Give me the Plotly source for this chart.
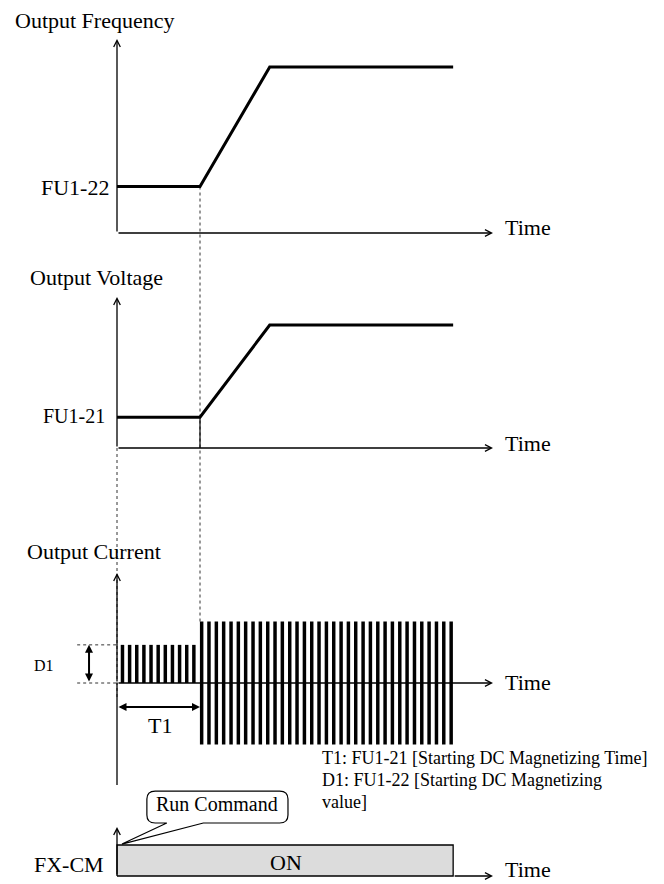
"""Starting DC magnetizing timing diagram (frequency, voltage, current, FX-CM)."""

import plotly.graph_objects as go

W, H = 664, 884
FONT = "Liberation Serif, Times New Roman, serif"

# ---- data (time in arbitrary units, T1 = 10) ----
freq_t = [0, 10, 18.4, 40.5]
freq_v = [28, 28, 100, 100]          # % of run frequency, FU1-22 level = 28
volt_t = [0, 10, 18.4, 40.5]
volt_v = [25, 25, 100, 100]          # % of run voltage, FU1-21 level = 25
t1_end = 10
run_end = 40.5
axis_end = 45.3

dc_pulse_t = [0.66, 1.52, 2.38, 3.24, 4.10, 4.96, 5.82, 6.68, 7.54, 8.40, 9.26]
dc_level = 0.62
run_pulse_t = [10.20, 11.08, 11.97, 12.85, 13.74, 14.62, 15.50, 16.39, 17.27,
               18.16, 19.04, 19.92, 20.81, 21.69, 22.58, 23.46, 24.34, 25.23,
               26.11, 27.00, 27.88, 28.76, 29.65, 30.53, 31.42, 32.30, 33.18,
               34.07, 34.95, 35.84, 36.72, 37.60, 38.49, 39.37, 40.26]
run_amp = 1.0
fx_on = 1.0

notes = ["T1: FU1-21 [Starting DC Magnetizing Time]",
         "D1: FU1-22 [Starting DC Magnetizing",
         "value]"]

# ---- layout of the four panels in pixels ----
X0, XS = 117, 8.3                     # pixel of t=0, pixels per time unit
PANELS = {"y": (233, 1.66), "y2": (448, 1.23), "y3": (683, 61.5), "y4": (876, 31)}


def yrange(ax):
    zero, s = PANELS[ax]
    return [(zero - H) / s, zero / s]


def conv(v, src, dst):
    """value on axis src -> value on axis dst (same screen height)"""
    zs, ss = PANELS[src]
    zd, sd = PANELS[dst]
    return (zd - (zs - v * ss)) / sd


fig = go.Figure()

# cross-panel dotted guide at the end of T1
fig.add_trace(go.Scatter(
    x=[t1_end, t1_end], y=[freq_v[1], conv(run_amp, "y3", "y")],
    mode="lines", line=dict(color="#333", width=1, dash="dot"), yaxis="y"))
fig.add_trace(go.Scatter(
    x=[0, 0], y=[0, conv(-0.26, "y3", "y2")],
    mode="lines", line=dict(color="#333", width=1, dash="dot"), yaxis="y2"))
fig.add_trace(go.Scatter(
    x=[t1_end, t1_end], y=[0, volt_v[1]],
    mode="lines", line=dict(color="black", width=1.2), yaxis="y2"))

# frequency / voltage curves
fig.add_trace(go.Scatter(x=freq_t, y=freq_v, mode="lines",
                         line=dict(color="black", width=3), yaxis="y"))
fig.add_trace(go.Scatter(x=volt_t, y=volt_v, mode="lines",
                         line=dict(color="black", width=3), yaxis="y2"))

# current pulses
fig.add_trace(go.Bar(x=dc_pulse_t, y=[dc_level] * len(dc_pulse_t), base=0,
                     width=0.42, marker=dict(color="black", line=dict(width=0)),
                     yaxis="y3"))
fig.add_trace(go.Bar(x=run_pulse_t, y=[2 * run_amp] * len(run_pulse_t),
                     base=-run_amp, width=0.42,
                     marker=dict(color="black", line=dict(width=0)), yaxis="y3"))

# D1 dotted guides
for lv in [dc_level, 0]:
    fig.add_trace(go.Scatter(x=[-4.8, 0], y=[lv, lv], mode="lines",
                             line=dict(color="#333", width=1, dash="dot"),
                             yaxis="y3"))

# FX-CM ON box
fig.add_trace(go.Scatter(x=[0, run_end, run_end, 0, 0],
                         y=[0, 0, fx_on, fx_on, 0], mode="lines", fill="toself",
                         fillcolor="#dcdcdc", line=dict(color="black", width=1.3),
                         yaxis="y4"))

# lower part of the current axis (below the time axis)
fig.add_trace(go.Scatter(x=[0, 0], y=[-1.66, 0], mode="lines", yaxis="y3",
                         line=dict(color="black", width=1.3)))

ann = []


def arrow(x, y, ax, ay, yref, head=5, both=False, size=1.0, width=1.3):
    d = dict(x=x, y=y, ax=ax, ay=ay, xref="x", yref=yref, axref="x",
             ayref=yref, text="", showarrow=True, arrowhead=head,
             arrowsize=size, arrowwidth=width, arrowcolor="black", standoff=0)
    if both:
        d.update(arrowside="end+start", startarrowhead=head,
                 startarrowsize=size, startstandoff=0)
    ann.append(d)


# axes with arrow heads
arrow(0, 116.9, 0, 0, "y")
arrow(axis_end, 0, 0, 0, "y")
arrow(0, 122.8, 0, 0, "y2")
arrow(axis_end, 0, 0, 0, "y2")
arrow(0, 1.79, 0, 0, "y3")
arrow(axis_end, 0, 0, 0, "y3")
arrow(0, 1.58, 0, 0, "y4")
arrow(axis_end, 0, run_end, 0, "y4")

# D1 and T1 dimension arrows
arrow(-3.37, dc_level, -3.37, 0, "y3", head=2, both=True, size=0.8, width=2)
arrow(t1_end, -0.39, 0, -0.39, "y3", head=2, both=True, size=0.8, width=2)


def label(text, x, y, anchor="left", size=22):
    ann.append(dict(x=x / W, y=1 - y / H, xref="paper", yref="paper",
                    text=text, showarrow=False, xanchor=anchor,
                    yanchor="middle", font=dict(family=FONT, size=size,
                                                color="black")))


label("Output Frequency", 13, 20)
label("Output Voltage", 28, 277)
label("Output Current", 25, 551)
label("FU1-22", 111, 187, "right", 22)
label("FU1-21", 107, 416, "right", 20)
label("D1", 44, 665, "center", 16)
label("T1", 160, 725, "center", 22)
label("FX-CM", 106, 864, "right", 22)
label("ON", 286, 862, "center", 22)
label("Run Command", 217, 804, "center", 20)
for ty in [228, 443, 682, 869]:
    label("Time", 503, ty)
for txt, ny in zip(notes, [758, 780, 802]):
    label(txt, 320, ny, "left", 18)

# Run Command callout bubble
l, r, top, bot = 3.6, 20.6, 2.74, 1.71
rx, ry = 1.0, 0.26
path = (f"M{l+rx},{top} L{r-rx},{top} Q{r},{top} {r},{top-ry} "
        f"L{r},{bot+ry} Q{r},{bot} {r-rx},{bot} L10.4,{bot} L0.6,1.03 "
        f"L6.0,{bot} L{l+rx},{bot} Q{l},{bot} {l},{bot+ry} L{l},{top-ry} "
        f"Q{l},{top} {l+rx},{top} Z")
shapes = [dict(type="path", path=path, xref="x", yref="y4",
               line=dict(color="black", width=1.2), fillcolor="white",
               layer="below")]

hidden = dict(visible=False, fixedrange=True)
fig.update_layout(
    width=W, height=H, margin=dict(l=0, r=0, t=0, b=0),
    paper_bgcolor="white", plot_bgcolor="white", showlegend=False,
    barmode="overlay",
    xaxis=dict(range=[-X0 / XS, (W - X0) / XS], **hidden),
    yaxis=dict(range=yrange("y"), domain=[0, 1], **hidden),
    yaxis2=dict(range=yrange("y2"), overlaying="y", **hidden),
    yaxis3=dict(range=yrange("y3"), overlaying="y", **hidden),
    yaxis4=dict(range=yrange("y4"), overlaying="y", **hidden),
    annotations=ann, shapes=shapes,
)

fig.write_html("out.html", config={"displayModeBar": False},
               post_script="document.body.style.margin='0';")
